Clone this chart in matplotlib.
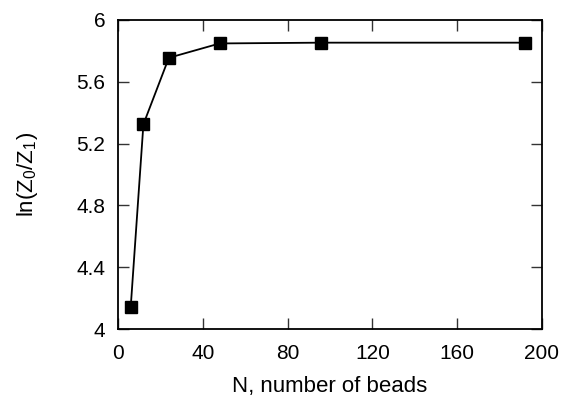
import matplotlib
matplotlib.use('Agg')
import matplotlib.pyplot as plt

# data
n_beads = [6, 12, 24, 48, 96, 192]
ln_ratio = [4.14, 5.325, 5.755, 5.848, 5.853, 5.853]
x_ticks = [0, 40, 80, 120, 160, 200]
y_ticks = [4.0, 4.4, 4.8, 5.2, 5.6, 6.0]
y_labels = ['4', '4.4', '4.8', '5.2', '5.6', '6']

plt.rcParams['font.family'] = ['Liberation Sans', 'DejaVu Sans']
plt.rcParams['mathtext.fontset'] = 'custom'
plt.rcParams['mathtext.rm'] = 'Liberation Sans'
plt.rcParams['mathtext.it'] = 'Liberation Sans:italic'

fig = plt.figure(figsize=(5.68, 3.99), dpi=100)
ax = fig.add_axes([0.2077, 0.1754, 0.7465, 0.7746])

ax.plot(n_beads, ln_ratio, color='black', linewidth=1.3, marker='s',
        markersize=8, markerfacecolor='black', markeredgecolor='black')

ax.set_xlim(0, 200)
ax.set_ylim(4, 6)
ax.set_xticks(x_ticks)
ax.set_yticks(y_ticks)
ax.set_yticklabels(y_labels)
ax.tick_params(direction='in', length=8, width=1, top=True, right=True,
               labelsize=15, color='#333333')
ax.tick_params(axis='x', pad=11)
ax.tick_params(axis='y', pad=9)
for s in ax.spines.values():
    s.set_linewidth(1.3)

ax.set_xlabel('N, number of beads', fontsize=16, labelpad=9)
ax.set_ylabel(r'ln(Z$_0$/Z$_1$)', fontsize=16, labelpad=26)

fig.savefig('out.png', dpi=100)
